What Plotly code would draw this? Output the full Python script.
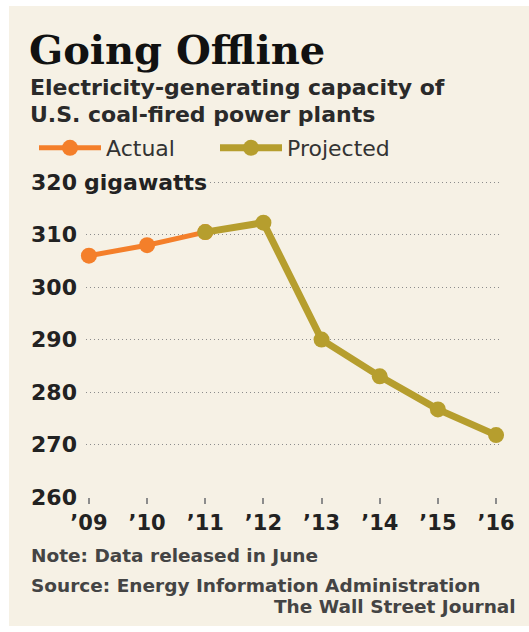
import plotly.graph_objects as go

# ---- data ----
years = [2009, 2010, 2011, 2012, 2013, 2014, 2015, 2016]
tick_labels = ["’09", "’10", "’11", "’12", "’13", "’14", "’15", "’16"]
actual_years = [2009, 2010, 2011]
actual_values = [306.0, 308.0, 310.5]
projected_years = [2011, 2012, 2013, 2014, 2015, 2016]
projected_values = [310.5, 312.3, 290.0, 283.0, 276.7, 271.8]
y_ticks = [260, 270, 280, 290, 300, 310, 320]

# ---- style ----
W, H = 529, 632
ML, MR, MT, MB = 86, 30, 177, 135
PW, PH = W - ML - MR, H - MT - MB
BG = "#f6f1e5"
ORANGE = "#f47f2a"
OLIVE = "#b69e2e"
DARK = "#222222"
GRID = "#8c8c8c"


def px(x):
    return (x - ML) / PW


def py(y):
    return (H - MB - y) / PH


fig = go.Figure()
fig.add_trace(go.Scatter(
    x=actual_years, y=actual_values, name="Actual", mode="lines+markers",
    line=dict(color=ORANGE, width=5), marker=dict(color=ORANGE, size=16),
    cliponaxis=False,
))
fig.add_trace(go.Scatter(
    x=projected_years, y=projected_values, name="Projected", mode="lines+markers",
    line=dict(color=OLIVE, width=7), marker=dict(color=OLIVE, size=16),
    cliponaxis=False,
))

ytext = [str(v) for v in y_ticks]

fig.update_layout(
    width=W, height=H,
    margin=dict(l=ML, r=MR, t=MT, b=MB),
    paper_bgcolor="white", plot_bgcolor="rgba(0,0,0,0)",
    font=dict(family="DejaVu Sans", color=DARK),
    xaxis=dict(
        range=[2008.95, 2016.05], tickvals=years, ticktext=tick_labels,
        showgrid=False, zeroline=False, showline=False,
        ticks="outside", ticklen=6, tickwidth=1.5, tickcolor=GRID,
        tickfont=dict(size=21, weight="bold", color=DARK),
        ticklabelstandoff=1,
    ),
    yaxis=dict(
        range=[260, 321], tickvals=y_ticks, ticktext=ytext,
        showgrid=True, gridcolor=GRID, gridwidth=1, griddash="1px,3px",
        zeroline=False, showline=False, ticks="",
        tickfont=dict(size=22, weight="bold", color=DARK),
        ticklabelstandoff=8,
    ),
    showlegend=True,
    legend=dict(
        orientation="h", x=px(34), y=py(148), xanchor="left", yanchor="middle",
        font=dict(size=22, color="#333333", family="DejaVu Sans"),
        itemwidth=62, entrywidth=104, bgcolor="rgba(0,0,0,0)", traceorder="normal",
    ),
    shapes=[dict(
        type="rect", xref="paper", yref="paper", layer="below",
        x0=px(9), x1=px(W + 2), y0=py(626), y1=py(6),
        fillcolor=BG, line=dict(width=0),
    )],
)

ann = []
ann.append(dict(text="gigawatts", xref="paper", yref="y", x=0, y=320,
                xanchor="left", yanchor="middle", xshift=-4, showarrow=False,
                bgcolor=BG, font=dict(size=22, weight="bold", color=DARK)))
ann.append(dict(text="Going Offline", xref="paper", yref="paper", x=px(27), y=py(24),
                xanchor="left", yanchor="top", showarrow=False,
                font=dict(family="DejaVu Serif", size=40, weight="bold", color="#111111")))
ann.append(dict(text="Electricity-generating capacity of",
                xref="paper", yref="paper", x=px(28), y=py(87), xanchor="left", yanchor="middle",
                align="left", showarrow=False,
                font=dict(family="DejaVu Sans", size=22, weight="bold", color="#2a2a2a")))
ann.append(dict(text="U.S. coal-fired power plants",
                xref="paper", yref="paper", x=px(28), y=py(114), xanchor="left", yanchor="middle",
                align="left", showarrow=False,
                font=dict(family="DejaVu Sans", size=22, weight="bold", color="#2a2a2a")))
ann.append(dict(text="Note: Data released in June", xref="paper", yref="paper",
                x=px(29), y=py(555), xanchor="left", yanchor="middle", showarrow=False,
                font=dict(family="DejaVu Sans", size=18.5, weight="bold", color="#444444")))
ann.append(dict(text="Source: Energy Information Administration", xref="paper", yref="paper",
                x=px(29), y=py(585), xanchor="left", yanchor="middle", showarrow=False,
                font=dict(family="DejaVu Sans", size=18.5, weight="bold", color="#444444")))
ann.append(dict(text="The Wall Street Journal", xref="paper", yref="paper",
                x=px(518), y=py(606), xanchor="right", yanchor="middle", showarrow=False,
                font=dict(family="DejaVu Sans", size=18.5, weight="bold", color="#444444")))
fig.update_layout(annotations=ann)

fig.write_html("out.html")
